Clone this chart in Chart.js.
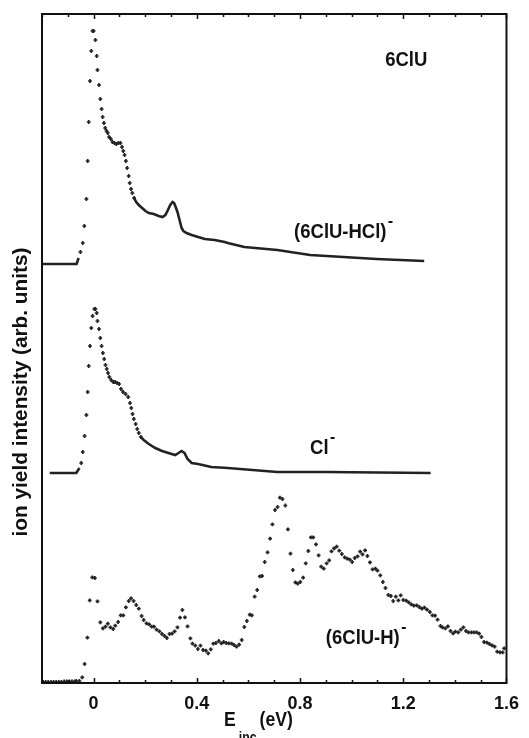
<!DOCTYPE html>
<html>
<head>
<meta charset="utf-8">
<script src="https://cdn.jsdelivr.net/npm/chart.js@4.4.1/dist/chart.umd.min.js"></script>
<style>
  html, body { margin:0; padding:0; background:#fff; }
  #wrap { width:529px; height:738px; position:relative; }
</style>
</head>
<body>
<div id="wrap"><canvas id="c" width="529" height="738"></canvas></div>
<script>
/* ion yield curves vs incident energy; y in arbitrary units (offset traces) */
const FONT = "'Liberation Sans', Arial, sans-serif";
const INK = '#222';

// (6ClU-HCl)- : dense stretches drawn as a trace, sparse stretches as dots
const hclTraceA = [[-0.197,419],[-0.150,419],[-0.100,419],[-0.066,419],[-0.058,425]];
const hclDots = [[-0.051,431],[-0.042,440],[-0.036,457],[-0.028,484],[-0.023,522],[-0.019,561],
  [-0.014,602],[-0.009,632],[-0.004,652],[0.000,652],[0.007,643],[0.012,627],[0.015,613],
  [0.021,598],[0.026,584],[0.031,574],[0.035,566],[0.040,560],[0.045,555],[0.050,552],
  [0.055,550],[0.060,546],[0.067,544],[0.073,541],[0.081,540],[0.088,539],[0.096,540],
  [0.104,540],[0.110,536],[0.115,532],[0.120,528],[0.125,522],[0.130,515],[0.136,507],
  [0.140,500],[0.145,494],[0.150,490],[0.157,485]];
const hclTraceB = [[0.157,485],[0.165,481],[0.175,478],[0.188,475],[0.201,472],[0.214,470],
  [0.233,469],[0.252,467],[0.267,466],[0.278,468],[0.288,473],[0.297,478],[0.306,481],
  [0.312,480],[0.318,476],[0.325,471],[0.331,465],[0.336,460],[0.341,455],[0.348,452],
  [0.360,450],[0.380,448],[0.405,446],[0.431,444],[0.469,443],[0.508,441],[0.520,440],
  [0.584,436],[0.712,433],[0.839,428],[0.968,426],[1.096,424],[1.281,422]];

// Cl-
const clTraceA = [[-0.170,210],[-0.120,210],[-0.067,210],[-0.055,215]];
const clDots = [[-0.048,220],[-0.042,231],[-0.035,247],[-0.028,268],[-0.023,291],[-0.019,317],
  [-0.014,337],[-0.009,355],[-0.004,367],[0.003,374],[0.007,374],[0.012,370],[0.015,362],
  [0.021,354],[0.026,345],[0.031,337],[0.036,330],[0.041,324],[0.046,318],[0.051,314],
  [0.056,310],[0.061,306],[0.068,303],[0.076,301],[0.083,301],[0.091,300],[0.099,299],
  [0.106,294],[0.114,291],[0.124,289],[0.134,286],[0.141,280],[0.146,275],[0.151,269],
  [0.156,264],[0.163,259],[0.169,254],[0.175,250],[0.183,246]];
const clTraceB = [[0.183,246],[0.194,243],[0.214,239],[0.239,235],[0.265,232],[0.290,230],
  [0.316,228],[0.329,230],[0.341,232],[0.352,230],[0.364,224],[0.380,220],[0.405,219],
  [0.456,216],[0.520,215],[0.712,211],[0.900,211],[1.100,210.5],[1.306,210]];

// (6ClU-H)-
const hDots = [[-0.196,1],[-0.186,1],[-0.176,1],[-0.165,1],[-0.155,1],[-0.145,1],[-0.135,1],
  [-0.125,1],[-0.114,1.5],[-0.104,1.5],[-0.094,1.5],[-0.084,1.5],[-0.074,1.5],[-0.067,2],
  [-0.055,2],[-0.044,5.7],[-0.035,19],[-0.024,45.3],[-0.015,82.7],[-0.005,105.7],[0.005,105],
  [0.015,81.7],[0.026,60.7],[0.036,54.7],[0.046,56.3],[0.055,59.3],[0.065,55.7],[0.076,54],
  [0.084,57.3],[0.095,61],[0.105,67.7],[0.115,67.7],[0.125,75.7],[0.136,82],[0.145,84.7],
  [0.155,82],[0.165,78],[0.175,74.3],[0.186,67],[0.194,63],[0.205,59.7],[0.215,58.7],
  [0.225,56.3],[0.234,56.3],[0.244,53.3],[0.255,51.7],[0.265,49],[0.275,47],[0.284,45],
  [0.294,49],[0.304,49.3],[0.314,51.7],[0.325,55.7],[0.335,65.3],[0.344,73],[0.354,65.7],
  [0.364,56.7],[0.375,44.7],[0.383,39.3],[0.394,37.3],[0.404,34],[0.414,37.3],[0.424,33],
  [0.435,32.3],[0.444,29.7],[0.454,33.7],[0.464,39.3],[0.474,40],[0.485,42],[0.495,39.7],
  [0.504,41],[0.514,40],[0.524,39.7],[0.535,39.3],[0.544,38],[0.554,36.3],[0.564,38.3],
  [0.574,43],[0.584,56],[0.594,62],[0.605,68.3],[0.613,67.7],[0.624,86.3],[0.634,93],
  [0.644,106.7],[0.653,107],[0.663,121],[0.674,130.7],[0.684,144.3],[0.693,158.7],[0.703,173],
  [0.713,176],[0.722,185.3],[0.732,184],[0.743,177.5],[0.753,153.7],[0.763,129.3],[0.772,113],
  [0.782,100.7],[0.791,99.3],[0.801,101],[0.812,105.3],[0.822,119.7],[0.832,132],[0.842,145.7],
  [0.851,145.7],[0.862,138.7],[0.872,127.7],[0.882,116.3],[0.892,114.3],[0.903,119.7],
  [0.913,122.7],[0.922,131.7],[0.932,134.7],[0.942,136.3],[0.952,132.3],[0.962,129],
  [0.973,125.7],[0.983,124.3],[0.993,123.3],[1.002,121],[1.012,125],[1.023,126.7],[1.033,131.3],
  [1.042,128.7],[1.052,132.7],[1.061,127],[1.071,120.7],[1.081,113.7],[1.092,114.3],[1.100,112.3],
  [1.111,107.7],[1.121,101],[1.131,95],[1.142,88],[1.152,87],[1.161,82],[1.171,86.3],
  [1.181,82.7],[1.190,87.7],[1.200,83],[1.211,82.3],[1.221,80.7],[1.231,78.7],[1.241,77.3],
  [1.252,77.7],[1.262,76],[1.272,74.3],[1.282,75.3],[1.292,73.3],[1.303,71],[1.313,67.7],
  [1.323,67.3],[1.333,63.3],[1.344,57],[1.352,55.7],[1.363,54.7],[1.373,56.7],[1.383,52],
  [1.393,49.7],[1.402,51.3],[1.413,50.7],[1.423,53.3],[1.433,55.7],[1.443,52],[1.453,50.7],
  [1.464,50.7],[1.474,50.7],[1.484,50.7],[1.494,49.3],[1.503,46],[1.513,41],[1.524,40.3],
  [1.534,39],[1.544,37.7],[1.554,36.3],[1.564,31.3],[1.575,30.7],[1.585,30.7],[1.591,34.7]];

const X_MIN = -0.2, X_MAX = 1.6, X_STEP = 0.1, X_MAJOR = 0.4;
const Y_MIN = 0, Y_MAX = 669;

// curve labels: [main text, superscript, left edge x (eV), centre y (arb.)]
const curveLabels = [
  ['6ClU', '', 1.130, 623],
  ['(6ClU-HCl)', '-', 0.777, 451],
  ['Cl', '-', 0.839, 235],
  ['(6ClU-H)', '-', 0.900, 45]
];

const COND = 0.88;   // the original face is a condensed bold

function pts(a) { return a.map(([x, y]) => ({ x, y })); }
function trace(a) { return { data: pts(a), showLine: true, borderColor: INK, borderWidth: 2.6,
  pointRadius: 0, tension: 0 }; }
function dots(a) { return { data: pts(a), showLine: false, pointStyle: 'cross', pointRadius: 1.9,
  pointBorderColor: INK, pointBorderWidth: 1.7 }; }

// draws condensed text starting at x, returns its width
function condText(ctx, txt, x, y, size) {
  ctx.save();
  ctx.font = 'bold ' + size + 'px ' + FONT;
  const w = ctx.measureText(txt).width * COND;
  ctx.translate(x, y);
  ctx.scale(COND, 1);
  ctx.fillText(txt, 0, 0);
  ctx.restore();
  return w;
}

const decor = {
  id: 'decor',
  afterDraw(chart) {
    const { ctx, chartArea: a, scales: { x, y } } = chart;
    ctx.save();
    ctx.strokeStyle = '#111';
    // frame
    ctx.lineWidth = 2;
    ctx.strokeRect(a.left, a.top, a.right - a.left, a.bottom - a.top);
    // inward ticks top and bottom
    ctx.lineWidth = 1.5;
    x.ticks.forEach(t => {
      const px = Math.round(x.getPixelForValue(t.value)) + 0.5;
      const major = Math.abs(t.value / X_MAJOR - Math.round(t.value / X_MAJOR)) < 1e-6;
      const len = major ? 5 : 3;
      ctx.beginPath();
      ctx.moveTo(px, a.bottom); ctx.lineTo(px, a.bottom - len);
      ctx.moveTo(px, a.top); ctx.lineTo(px, a.top + len);
      ctx.stroke();
    });
    ctx.fillStyle = '#111';
    ctx.textAlign = 'left';
    ctx.textBaseline = 'middle';
    // curve labels
    curveLabels.forEach(([txt, sup, vx, vy]) => {
      const lx = x.getPixelForValue(vx), cy = y.getPixelForValue(vy);
      const w = condText(ctx, txt, lx, cy, 21);
      if (sup) ctx.fillRect(lx + w + 2, cy - 11, 4, 2);
    });
    // x title  E_inc (eV)
    const wE = condText(ctx, 'E', 224, 720, 20);
    const wi = condText(ctx, 'inc', 224 + wE + 3, 738, 14);
    condText(ctx, '(eV)', 224 + wE + wi + 6, 720, 20);
    // y title
    ctx.translate(21, 392);
    ctx.rotate(-Math.PI / 2);
    ctx.font = 'bold 20px ' + FONT;
    const wy = ctx.measureText('ion yield intensity (arb. units)').width;
    ctx.scale(289 / wy, 1);
    ctx.textAlign = 'center';
    ctx.fillText('ion yield intensity (arb. units)', 0, 0);
    ctx.restore();
  }
};

new Chart(document.getElementById('c'), {
  type: 'scatter',
  data: { datasets: [
    trace(hclTraceA), dots(hclDots), trace(hclTraceB),
    trace(clTraceA), dots(clDots), trace(clTraceB),
    dots(hDots)
  ] },
  options: {
    responsive: false, animation: false, events: [],
    layout: { padding: { top: 14, right: 18, left: 0, bottom: 0 } },
    plugins: { legend: { display: false }, tooltip: { enabled: false } },
    scales: {
      x: { type: 'linear', min: X_MIN, max: X_MAX,
        grid: { display: false, drawTicks: false }, border: { display: false },
        ticks: { stepSize: X_STEP, padding: 10, color: '#111', maxRotation: 0, autoSkip: false,
          font: { family: FONT, size: 18, weight: 'bold' },
          callback: v => {
            const k = Math.round(v * 10);
            return (k >= 0 && k % 4 === 0) ? String(k / 10) : '';
          } },
        afterFit: s => { s.height = 55; } },
      y: { min: Y_MIN, max: Y_MAX,
        grid: { display: false, drawTicks: false }, border: { display: false },
        ticks: { display: false },
        afterFit: s => { s.width = 42; } }
    }
  },
  plugins: [decor]
});
</script>
</body>
</html>
